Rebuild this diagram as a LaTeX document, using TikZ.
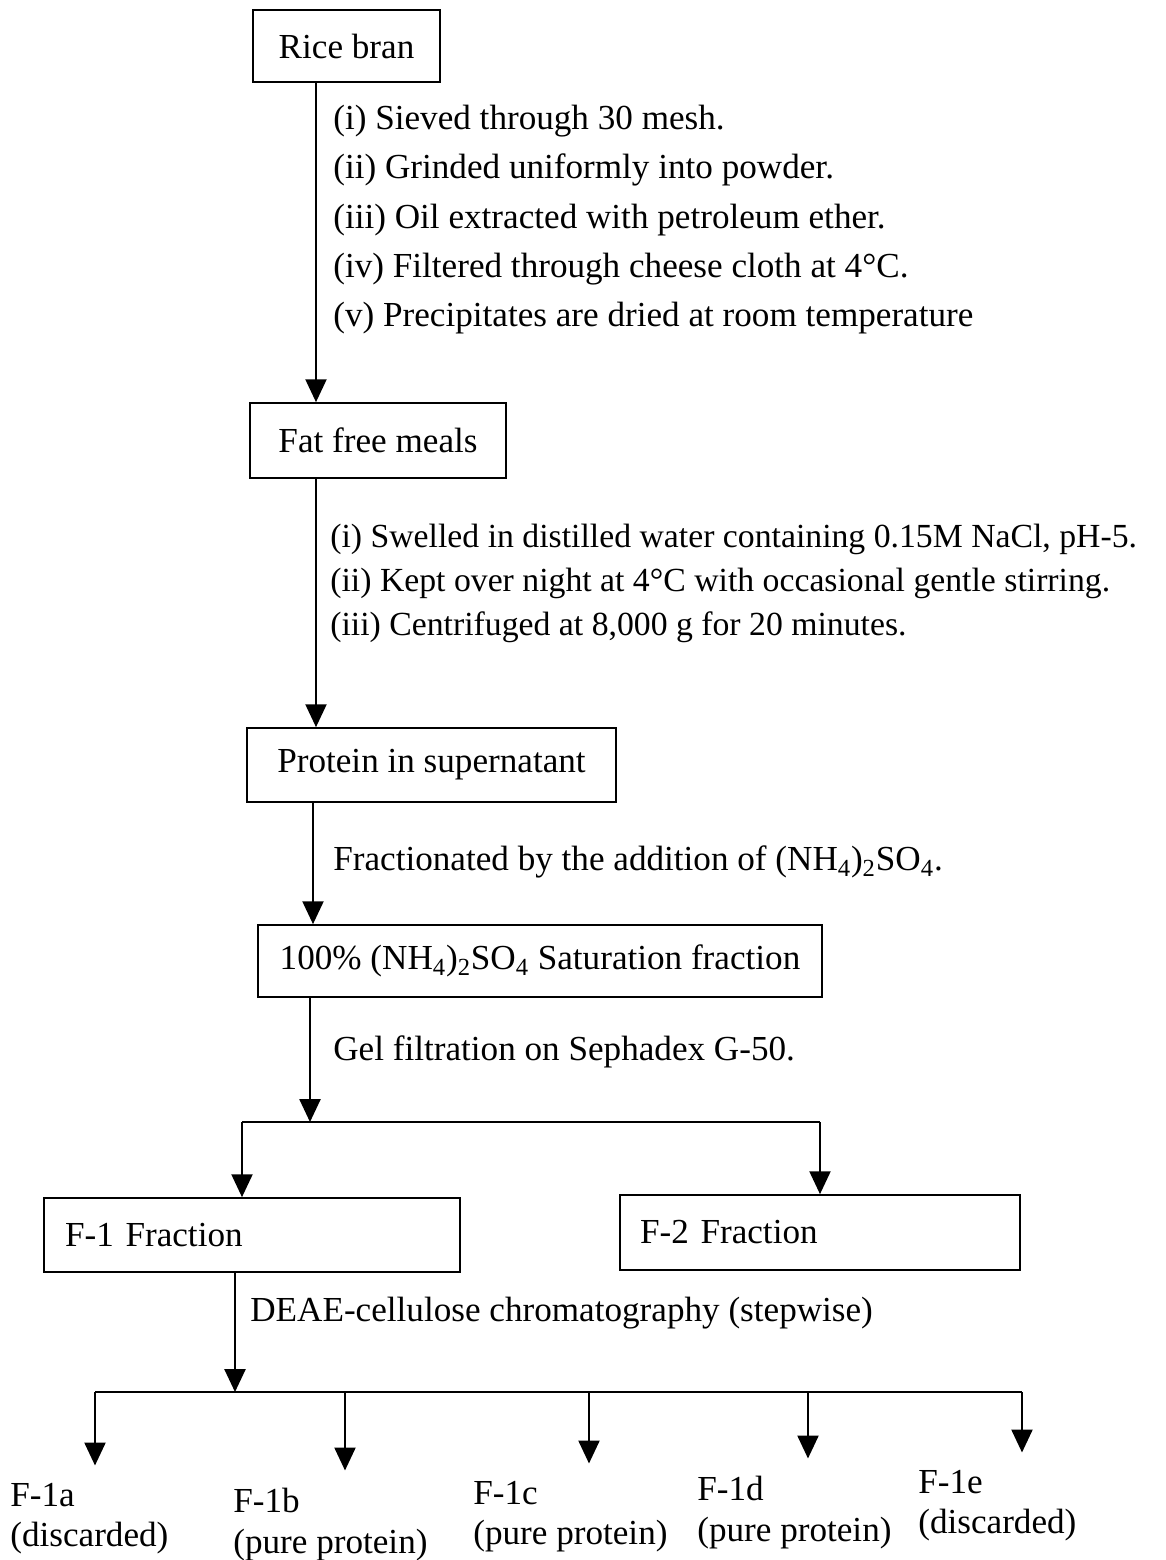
\documentclass[tikz,border=0pt]{standalone}
\usepackage{fontspec}
\setmainfont{Liberation Serif}
\usetikzlibrary{arrows.meta}
\tikzset{>={Triangle[length=13pt,width=12pt]}}

\begin{document}
\begin{tikzpicture}[x=0.02cm, y=-0.02cm, font=\fontsize{20}{24}\selectfont,
  box/.style={draw, line width=1pt, inner sep=0pt},
  steptext/.style={anchor=north west, align=left, inner sep=0pt},
  link/.style={->, line width=1pt}]
\useasboundingbox (0,0) rectangle (1166,1560);
% boxes
\node[box, minimum width=3.74cm, minimum height=1.44cm] (rice) at (346.5,46) {Rice bran};
\node[box, minimum width=5.12cm, minimum height=1.5cm] (fat) at (378,440.5) {Fat free meals};
\node[box, minimum width=7.38cm, minimum height=1.48cm] (prot) at (431.5,765) {Protein in supernatant};
\node[box, minimum width=11.28cm, minimum height=1.44cm] (sat) at (540,961)
  {100\% (NH\textsubscript{4})\textsubscript{2}SO\textsubscript{4} Saturation fraction};
\node[box, minimum width=8.32cm, minimum height=1.48cm, text width=7.48cm, inner xsep=0.42cm, align=left] (fone) at (252,1235) {F-1 Fraction};
\node[box, minimum width=8cm, minimum height=1.5cm, text width=7.2cm, inner xsep=0.4cm, align=left] (ftwo) at (820,1232.5) {F-2 Fraction};
% steps
\node[steptext, font=\fontsize{20}{28}\selectfont] (sone) at (333,105) {(i) Sieved through 30 mesh.\\
(ii) Grinded uniformly into powder.\\
(iii) Oil extracted with petroleum ether.\\
(iv) Filtered through cheese cloth at 4°C.\\
(v) Precipitates are dried at room temperature};
\node[steptext, font=\fontsize{19.2}{25}\selectfont] (stwo) at (330,524) {(i) Swelled in distilled water containing 0.15M NaCl, pH-5.\\
(ii) Kept over night at 4°C with occasional gentle stirring.\\
(iii) Centrifuged at 8,000 g for 20 minutes.};
\node[anchor=west, inner sep=0pt] (sthree) at (333,862) {Fractionated by the addition of (NH\textsubscript{4})\textsubscript{2}SO\textsubscript{4}.};
\node[anchor=west, inner sep=0pt] (sfour) at (333,1052) {Gel filtration on Sephadex G-50.};
\node[anchor=west, inner sep=0pt] (sfive) at (250,1313) {DEAE-cellulose chromatography (stepwise)};
% fractions
\begin{scope}[every node/.style={steptext, font=\fontsize{20}{23}\selectfont}]
\node (fa) at (10,1483) {F-1a\\(discarded)};
\node (fb) at (233,1488) {F-1b\\(pure protein)};
\node (fc) at (473,1481) {F-1c\\(pure protein)};
\node (fd) at (697,1476) {F-1d\\(pure protein)};
\node (fe) at (918,1470) {F-1e\\(discarded)};
\end{scope}
% arrows
\coordinate (c1) at (316,0);
\coordinate (c2) at (313,0);
\coordinate (c3) at (310,0);
\draw[link] (rice.south -| c1) -- (fat.north -| c1);
\draw[link] (fat.south -| c1) -- (prot.north -| c1);
\draw[link] (prot.south -| c2) -- (sat.north -| c2);
\coordinate (bl) at (242,1122);
\coordinate (br) at (ftwo.north |- bl);
\draw[link] (sat.south -| c3) -- (c3 |- bl);
\draw[line width=1pt] (bl) -- (br);
\draw[link] (bl) -- (bl |- fone.north);
\draw[link] (br) -- (ftwo.north);
\coordinate (bus) at (235,1392);
\draw[link] (fone.south -| bus) -- (bus);
\draw[line width=1pt] (95,1392) -- (1022,1392);
\foreach \n/\x in {fa/95, fb/345, fc/589, fd/808, fe/1022}
  \draw[link, shorten >=10pt] (\x,1392) -- (\x,1392 |- \n.north);
\end{tikzpicture}
\end{document}
